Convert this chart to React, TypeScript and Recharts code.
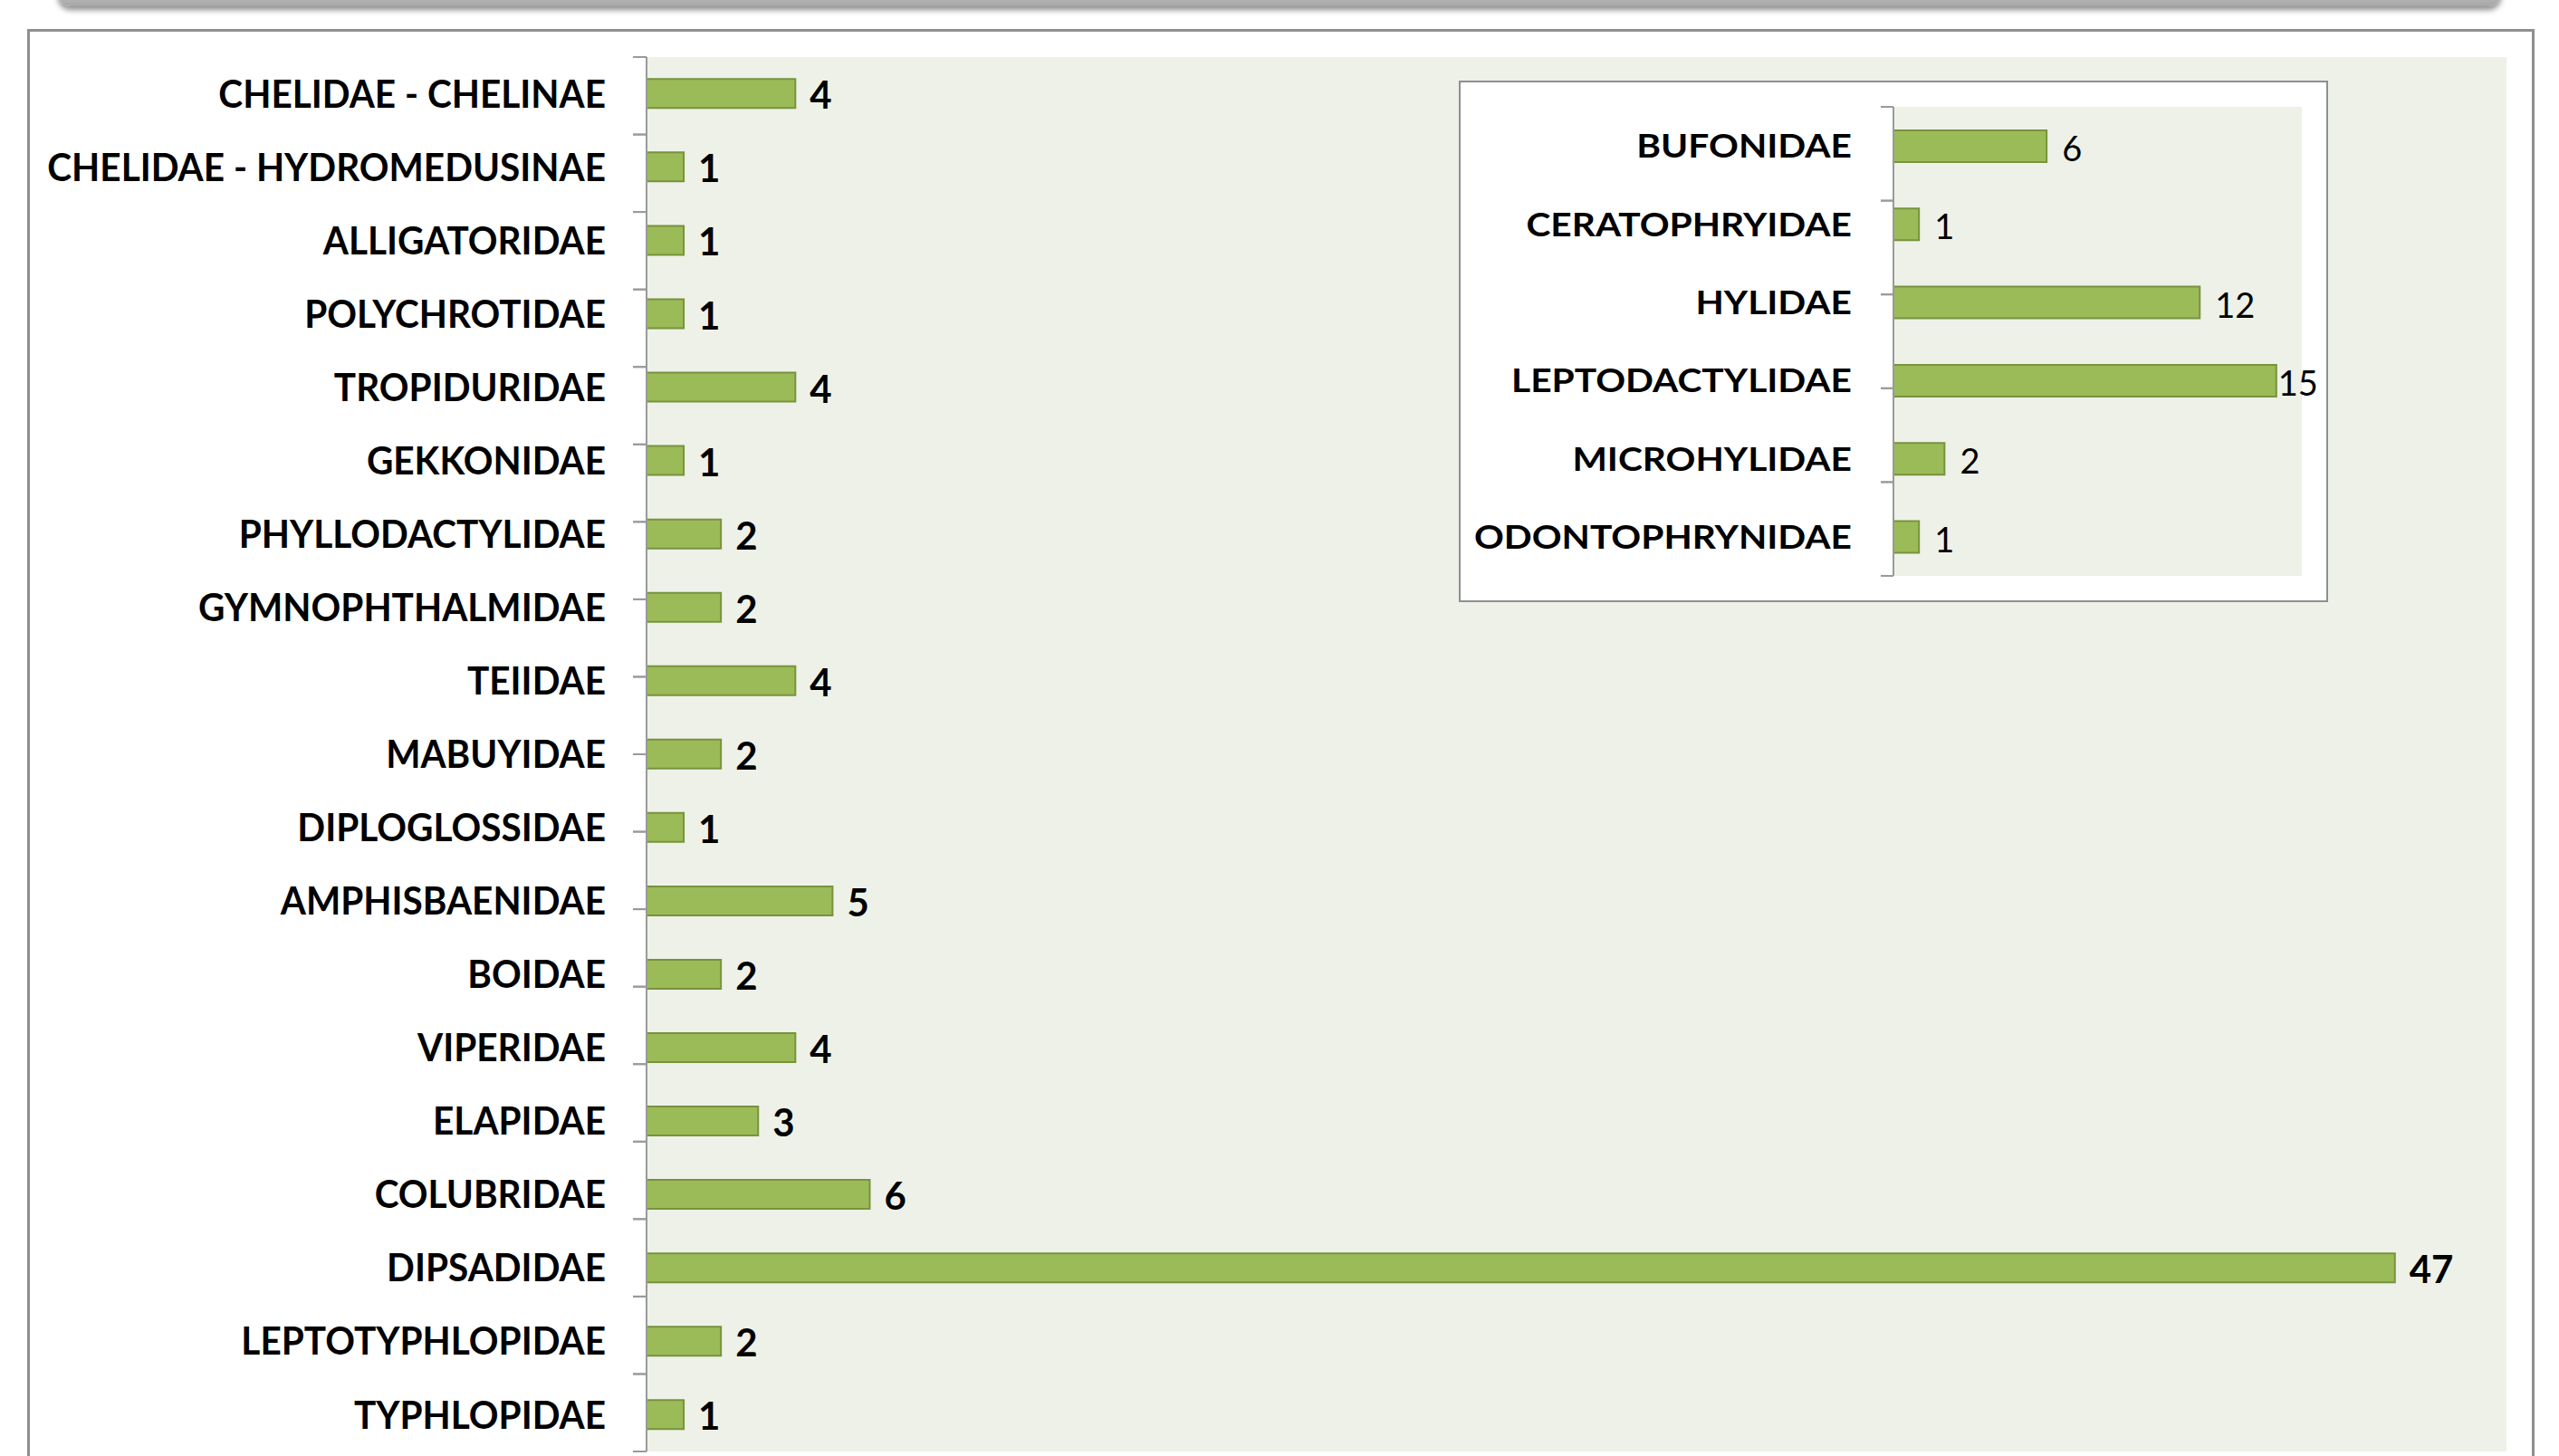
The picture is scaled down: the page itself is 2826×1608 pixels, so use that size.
import React from 'react';
import { BarChart, Bar, XAxis, YAxis, CartesianGrid, LabelList } from 'recharts';

// ---------- data ----------
const mainFamilies = [
  'CHELIDAE - CHELINAE',
  'CHELIDAE - HYDROMEDUSINAE',
  'ALLIGATORIDAE',
  'POLYCHROTIDAE',
  'TROPIDURIDAE',
  'GEKKONIDAE',
  'PHYLLODACTYLIDAE',
  'GYMNOPHTHALMIDAE',
  'TEIIDAE',
  'MABUYIDAE',
  'DIPLOGLOSSIDAE',
  'AMPHISBAENIDAE',
  'BOIDAE',
  'VIPERIDAE',
  'ELAPIDAE',
  'COLUBRIDAE',
  'DIPSADIDAE',
  'LEPTOTYPHLOPIDAE',
  'TYPHLOPIDAE',
];
const mainCounts = [4, 1, 1, 1, 4, 1, 2, 2, 4, 2, 1, 5, 2, 4, 3, 6, 47, 2, 1];
const mainDomain = [0, 50];

const insetFamilies = [
  'BUFONIDAE',
  'CERATOPHRYIDAE',
  'HYLIDAE',
  'LEPTODACTYLIDAE',
  'MICROHYLIDAE',
  'ODONTOPHRYNIDAE',
];
const insetCounts = [6, 1, 12, 15, 2, 1];
const insetDomain = [0, 16];

const mainData = mainFamilies.map((name, i) => ({ name, value: mainCounts[i] }));
const insetData = insetFamilies.map((name, i) => ({ name, value: insetCounts[i] }));
const mainBoundaries = Array.from({ length: mainFamilies.length + 1 }, (_, i) => i);
const insetBoundaries = Array.from({ length: insetFamilies.length + 1 }, (_, i) => i);

// ---------- style ----------
const FONT = 'Lato, "Open Sans", sans-serif';
const BAR_FILL = '#9BBB59';
const BAR_STROKE = '#77933C';
const PLOT_BG = '#EEF1E8';
const AXIS = '#9A9A9A';

const MAIN_W = 2826;
const MAIN_H = 1608;
const MAIN_MARGIN = { top: 63, right: 58, bottom: 5, left: 0 };
const MAIN_YW = 713;

const INSET_W = 956;
const INSET_H = 572;
const INSET_MARGIN = { top: 27, right: 27, bottom: 27, left: 0 };
const INSET_YW = 477;

function makeCatTick(fontSize: number, sx: number) {
  return (props: any) => {
    const { x, y, payload } = props;
    return (
      <g transform={`translate(${x},${y})`}>
        <text
          transform={`scale(${sx},1)`}
          x={0}
          y={0}
          dy={fontSize * 0.358}
          textAnchor="end"
          fontFamily={FONT}
          fontWeight={700}
          fontSize={fontSize}
          fill="#000"
        >
          {payload.value}
        </text>
      </g>
    );
  };
}

// tick mark drawn at each category boundary (tick x is axis - tickLen)
function makeBoundaryTick(len: number) {
  return (props: any) => {
    const { x, y } = props;
    return (
      <line
        x1={Number(x)}
        x2={Number(x) + len}
        y1={Number(y)}
        y2={Number(y)}
        stroke={AXIS}
        strokeWidth={2}
      />
    );
  };
}

function makeValueLabel(
  fontSize: number,
  weight: number,
  gap: number,
  dyExtra: number,
  plotRight: number | null
) {
  return (props: any) => {
    const { x, y, width, height, value } = props;
    const end = Number(x) + Number(width);
    const est = String(value).length * 0.58 * fontSize;
    let tx = end + gap;
    if (plotRight !== null && tx + est > plotRight) tx = end + 2;
    return (
      <text
        x={tx}
        y={Number(y) + Number(height) / 2}
        dy={fontSize * 0.358 + dyExtra}
        textAnchor="start"
        fontFamily={FONT}
        fontWeight={weight}
        fontSize={fontSize}
        fill="#000"
      >
        {value}
      </text>
    );
  };
}

export default function App() {
  return (
    <div
      style={{
        position: 'absolute',
        left: 0,
        top: 0,
        width: MAIN_W,
        height: MAIN_H,
        background: '#fff',
        overflow: 'hidden',
      }}
    >
      {/* shape above the chart */}
      <div
        style={{
          position: 'absolute',
          left: 64,
          top: -24,
          width: 2698,
          height: 31,
          borderRadius: 14,
          background: 'linear-gradient(to bottom, #d8d8d8, #a6a6a6)',
          boxShadow: '0 4px 6px rgba(0,0,0,0.45)',
        }}
      />
      {/* outer chart frame */}
      <div
        style={{
          position: 'absolute',
          left: 30,
          top: 32,
          width: 2769,
          height: 1700,
          border: '3px solid #8f8f8f',
          boxSizing: 'border-box',
        }}
      />
      <div style={{ position: 'absolute', left: 0, top: 0 }}>
        <BarChart
          width={MAIN_W}
          height={MAIN_H}
          data={mainData}
          layout="vertical"
          margin={MAIN_MARGIN}
          barCategoryGap="30%"
        >
          <CartesianGrid fill={PLOT_BG} stroke="none" horizontal={false} vertical={false} />
          <XAxis type="number" domain={mainDomain} hide />
          <YAxis
            type="number"
            domain={[0, mainFamilies.length]}
            ticks={mainBoundaries}
            interval={0}
            width={1}
            tickSize={15}
            tickMargin={0}
            tick={makeBoundaryTick(15)}
            axisLine={{ stroke: AXIS, strokeWidth: 2 }}
            tickLine={{ stroke: AXIS, strokeWidth: 2 }}
            allowDataOverflow
          />
          <YAxis
            yAxisId="cat"
            type="category"
            dataKey="name"
            width={MAIN_YW}
            tickLine={false}
            axisLine={false}
            tickSize={0}
            tickMargin={44}
            interval={0}
            tick={makeCatTick(42, 0.965)}
          />
          <Bar
            yAxisId="cat"
            dataKey="value"
            fill={BAR_FILL}
            stroke={BAR_STROKE}
            strokeWidth={2}
            isAnimationActive={false}
          >
            <LabelList dataKey="value" content={makeValueLabel(42, 700, 16, 2, null)} />
          </Bar>
        </BarChart>
      </div>
      {/* inset chart */}
      <div
        style={{
          position: 'absolute',
          left: 1611,
          top: 89,
          width: INSET_W + 4,
          height: INSET_H + 4,
          border: '2px solid #8f8f8f',
          boxSizing: 'border-box',
          background: '#fff',
        }}
      >
        <div style={{ position: 'absolute', left: 0, top: 0 }}>
          <BarChart
            width={INSET_W}
            height={INSET_H}
            data={insetData}
            layout="vertical"
            margin={INSET_MARGIN}
            barCategoryGap="30%"
          >
            <CartesianGrid fill={PLOT_BG} stroke="none" horizontal={false} vertical={false} />
            <XAxis type="number" domain={insetDomain} hide />
            <YAxis
              type="number"
              domain={[0, insetFamilies.length]}
              ticks={insetBoundaries}
              interval={0}
              width={1}
              tickSize={14}
              tickMargin={0}
              tick={makeBoundaryTick(14)}
              axisLine={{ stroke: AXIS, strokeWidth: 2 }}
              tickLine={{ stroke: AXIS, strokeWidth: 2 }}
              allowDataOverflow
            />
            <YAxis
              yAxisId="cat"
              type="category"
              dataKey="name"
              width={INSET_YW}
              tickLine={false}
              axisLine={false}
              tickSize={0}
              tickMargin={45}
              interval={0}
              tick={makeCatTick(37, 1.1)}
            />
            <Bar
              yAxisId="cat"
              dataKey="value"
              fill={BAR_FILL}
              stroke={BAR_STROKE}
              strokeWidth={2}
              isAnimationActive={false}
            >
              <LabelList
                dataKey="value"
                content={makeValueLabel(38, 400, 17, 3, INSET_W - INSET_MARGIN.right)}
              />
            </Bar>
          </BarChart>
        </div>
      </div>
    </div>
  );
}
